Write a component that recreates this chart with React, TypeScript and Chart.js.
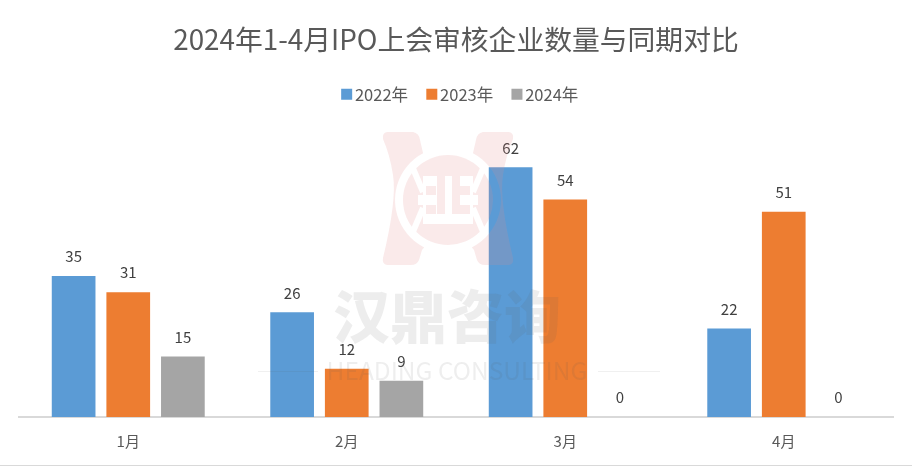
import React, { useEffect, useRef } from "react";
import { Chart, registerables } from "chart.js";

Chart.register(...registerables);

const categories = ["1月", "2月", "3月", "4月"];
const values2022 = [35, 26, 62, 22];
const values2023 = [31, 12, 54, 51];
const values2024 = [15, 9, 0, 0];
const titleText = "2024年1-4月IPO上会审核企业数量与同期对比";
const wmCn = "汉鼎咨询";
const wmEn = "HEADING CONSULTING";

const FONT = '"Noto Sans CJK SC", "Noto Sans", sans-serif';

function drawLogo(ctx: CanvasRenderingContext2D) {
  const off = document.createElement("canvas");
  off.width = 912;
  off.height = 466;
  const c = off.getContext("2d")!;
  const pink = "#E38C8C";
  c.fillStyle = pink;
  const side = (m: number) => {
    const X = (x: number) => (m ? 896 - x : x);
    c.beginPath();
    c.moveTo(X(387), 132);
    c.lineTo(X(413), 132);
    c.quadraticCurveTo(X(419), 133, X(420), 140);
    c.lineTo(X(426), 166);
    c.lineTo(X(430), 240);
    c.lineTo(X(422), 250);
    c.lineTo(X(419), 260);
    c.quadraticCurveTo(X(417), 265, X(411), 265);
    c.lineTo(X(387), 265);
    c.quadraticCurveTo(X(382), 264, X(383), 258);
    c.quadraticCurveTo(X(397), 200, X(393), 175);
    c.quadraticCurveTo(X(390), 155, X(383), 139);
    c.quadraticCurveTo(X(382), 133, X(387), 132);
    c.closePath();
    c.fill();
  };
  side(0);
  side(1);
  c.globalCompositeOperation = "destination-out";
  c.beginPath();
  c.arc(448, 200, 53, 0, Math.PI * 2);
  c.fill();
  c.globalCompositeOperation = "source-over";
  c.beginPath();
  c.arc(448, 200, 45, 0, Math.PI * 2);
  c.fill();
  // white emblem block
  c.globalCompositeOperation = "destination-out";
  c.fillStyle = "#000";
  c.fillRect(423, 176, 50, 48);
  c.fillRect(418, 195, 60, 10);
  c.lineWidth = 6;
  c.strokeStyle = "#000";
  [
    [412, 166, 423, 192],
    [484, 166, 473, 192],
    [412, 234, 423, 208],
    [484, 234, 473, 208],
  ].forEach(([a, b, d, e]) => {
    c.beginPath();
    c.moveTo(a, b);
    c.lineTo(d, e);
    c.stroke();
  });
  // pink pieces inside the emblem
  c.globalCompositeOperation = "source-over";
  c.fillStyle = pink;
  const r = (x: number, y: number, w: number, h: number) => c.fillRect(x, y, w, h);
  r(437, 176, 8, 38);
  r(452, 176, 8, 38);
  r(426, 186, 10, 9);
  r(460, 186, 10, 9);
  r(426, 205, 10, 9);
  r(460, 205, 10, 9);
  ctx.save();
  ctx.globalAlpha = 0.18;
  ctx.drawImage(off, 0, 0);
  ctx.restore();
}

const overlay = {
  id: "overlay",
  afterLayout(chart: any) {
    chart.legend.left += 6.5;
    chart.legend.right += 6.5;
  },
  afterDatasetsDraw(chart: any) {
    const { ctx } = chart;
    // value labels
    ctx.save();
    ctx.font = `15px ${FONT}`;
    ctx.fillStyle = "#404040";
    ctx.textAlign = "center";
    ctx.textBaseline = "middle";
    chart.data.datasets.forEach((ds: any, i: number) => {
      chart.getDatasetMeta(i).data.forEach((el: any, j: number) => {
        ctx.fillText(String(ds.data[j]), el.x, el.y - 19.5);
      });
    });
    ctx.restore();
    // watermark
    drawLogo(ctx);
    ctx.save();
    ctx.textAlign = "center";
    ctx.textBaseline = "middle";
    ctx.fillStyle = "rgba(90,90,90,0.11)";
    ctx.font = `900 57px ${FONT}`;
    ctx.fillText(wmCn, 447, 316);
    ctx.font = `24.5px ${FONT}`;
    ctx.fillStyle = "rgba(90,90,90,0.10)";
    ctx.fillText(wmEn, 457, 371);
    ctx.fillStyle = "rgba(90,90,90,0.09)";
    ctx.fillRect(258, 371, 60, 1);
    ctx.fillRect(598, 371, 62, 1);
    ctx.restore();
    // lower edge of the picture
    ctx.save();
    ctx.fillStyle = "#D9D9D9";
    ctx.fillRect(0, 465, 912, 1);
    ctx.restore();
  },
};

export default function App() {
  const ref = useRef<HTMLCanvasElement>(null);
  useEffect(() => {
    const chart = new Chart(ref.current!, {
      type: "bar",
      data: {
        labels: categories,
        datasets: [
          { label: "2022年", data: values2022, backgroundColor: "#5B9BD5" },
          { label: "2023年", data: values2023, backgroundColor: "#ED7D31" },
          { label: "2024年", data: values2024, backgroundColor: "#A5A5A5" },
        ],
      },
      options: {
        responsive: false,
        animation: false,
        devicePixelRatio: 1,
        layout: { padding: { left: 19, right: 19, top: 0, bottom: 1 } },
        datasets: { bar: { categoryPercentage: 0.75, barPercentage: 0.8 } },
        plugins: {
          title: {
            display: true,
            text: titleText,
            color: "#595959",
            font: { family: FONT, size: 27.8, weight: "normal" },
            padding: { top: 23, bottom: 6 },
          },
          legend: {
            display: true,
            position: "top",
            labels: {
              color: "#595959",
              font: { family: FONT, size: 16.5 },
              usePointStyle: true,
              pointStyle: "rect",
              boxWidth: 0.01,
              boxHeight: 11,
              padding: 23.75,
            },
          },
          tooltip: { enabled: false },
        },
        scales: {
          x: {
            grid: { display: false, drawTicks: false },
            border: { color: "#D9D9D9", width: 2 },
            ticks: { color: "#595959", font: { family: FONT, size: 15 }, padding: 15 },
          },
          y: { display: false, min: 0, max: 75.6 },
        },
      },
      plugins: [overlay],
    } as any);
    return () => chart.destroy();
  }, []);
  return (
    <div style={{ position: "fixed", left: 0, top: 0, width: 912, height: 466, background: "#fff" }}>
      <canvas ref={ref} width={912} height={466} style={{ display: "block" }} />
    </div>
  );
}
